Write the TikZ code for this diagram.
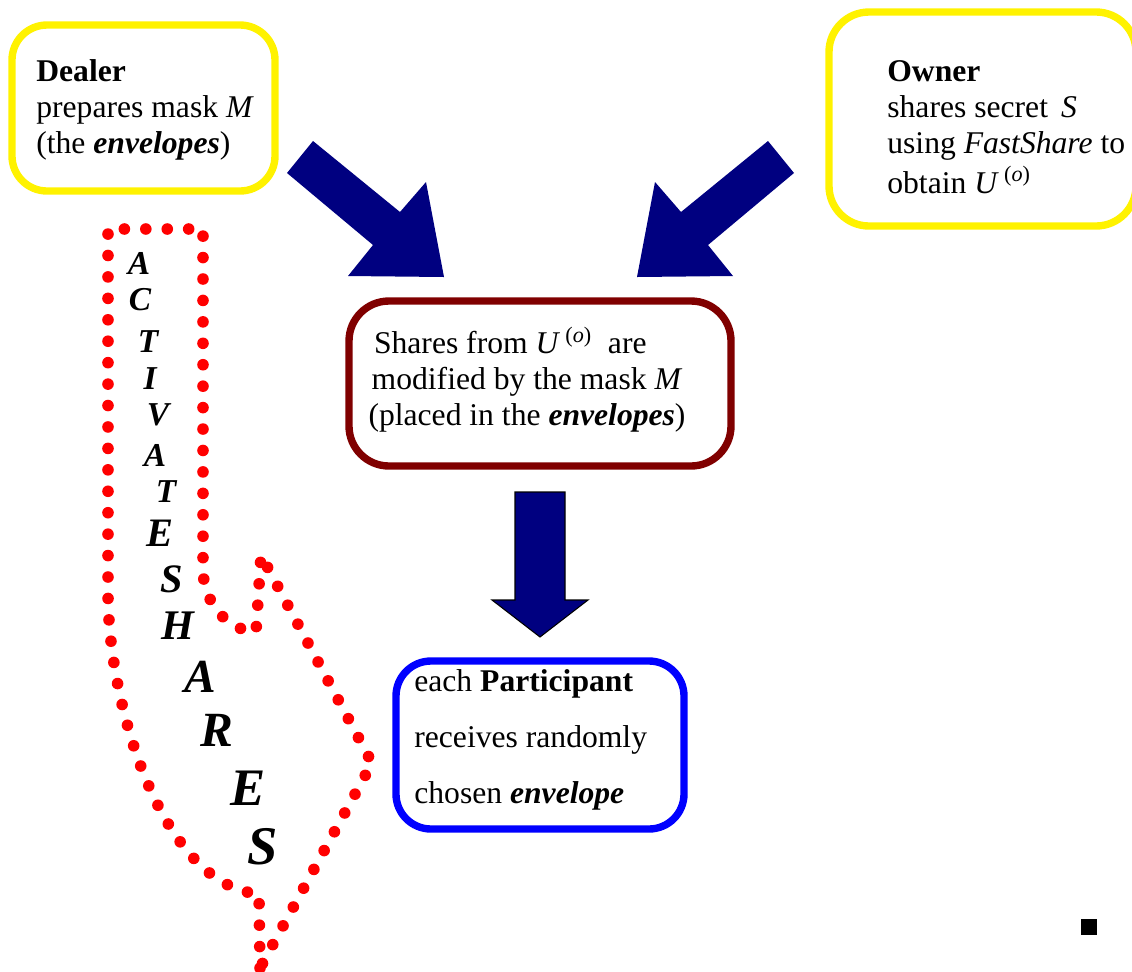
\documentclass[tikz,border=0pt]{standalone}
\usepackage{fontspec}
\setmainfont{Liberation Serif}
\definecolor{navyarrow}{HTML}{000080}
\definecolor{maskred}{HTML}{800000}
\newcommand{\Uo}{\textit{U}\,\textsuperscript{(\textit{o})}}

\begin{document}
\begin{tikzpicture}[x=0.02cm,y=-0.02cm,
  box/.style={line width=4.2pt, rounded corners=0.7cm},
  boxtext/.style={anchor=base west, inner sep=0pt, align=left, font=\fontsize{18}{20.4}\selectfont},
  fatarrow/.style={fill=navyarrow},
  dotline/.style={red, line width=6.6pt, line cap=round, dash pattern=on 0pt off 12.2pt}]
\useasboundingbox (0,0) rectangle (1132,971);

% dealer and owner
\draw[box, yellow] (12,25) rectangle (275,191);
\node[boxtext] (dealer) at (36,153) {\textbf{Dealer}\\prepares mask \textit{M}\\(the \textbf{\textit{envelopes}})};
\draw[box, yellow, rounded corners=0.8cm] (829,12) rectangle (1136,226);
\node[boxtext] (owner) at (887,193) {\textbf{Owner}\\shares secret\, \textit{S}\\using \textit{FastShare} to\\[2pt]obtain \Uo};

% arrows into the middle box
\fill[fatarrow] (313,141) -- (400,212) -- (426,182) -- (444,277) -- (348,276) -- (373,245) -- (287,173) -- cycle;
\fill[fatarrow] (768,141) -- (681,212) -- (655,182) -- (637,277) -- (733,276) -- (708,245) -- (794,173) -- cycle;

% shares in the envelopes
\draw[box, maskred, rounded corners=0.8cm] (349,301) rectangle (731,466);
\node[boxtext, anchor=base, align=center] (masked) at (527,425) {Shares from \Uo\ \ are\hspace*{19pt}\\modified by the mask \textit{M}\\(placed in the \textbf{\textit{envelopes}})};

\draw[fatarrow, draw=black, line width=0.6pt] (515,492) -- (565,492) -- (565,600) -- (588,600) -- (540,637) -- (492,600) -- (515,600) -- cycle;

% participants
\draw[box, blue] (396,661) rectangle (684,829);
\node[boxtext, font=\fontsize{18}{31.8}\selectfont] (participant) at (414,803) {each \textbf{Participant}\\receives randomly\\chosen \textbf{\textit{envelope}}};

% activate shares
\draw[dotline] (260,968) -- (259,894) .. controls (160,885) and (108,700) .. (108,593) -- (108,229) -- (203,229) -- (203,572) .. controls (205,605) and (228,630) .. (256,632) -- (261,555) -- (372,763) -- cycle;
\foreach \ltr/\px/\py/\sz [count=\i] in {A/139/263/19, C/140/300/19, T/148/342/19, I/150/379/19, V/158/415/19, A/155/455/19, T/166/492/19, E/160/533/23, S/172/579/23, H/178/626/24, A/200/677/27, R/217/730/28, E/248/788/30, S/263/847/31}
  \node[inner sep=0pt, font=\fontsize{\sz}{\sz}\selectfont\bfseries\itshape] (ltr\i) at (\px,\py) {\ltr};

\fill (1081,919) rectangle (1097,935);
\end{tikzpicture}
\end{document}
